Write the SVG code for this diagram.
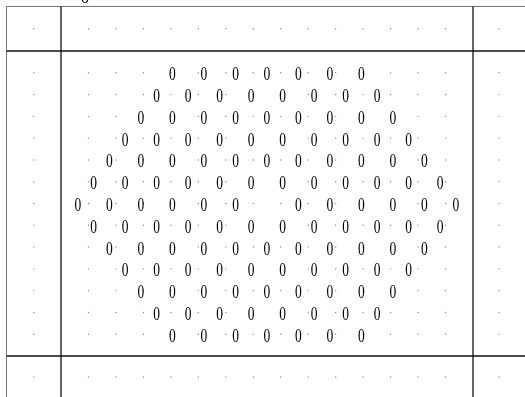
<svg xmlns="http://www.w3.org/2000/svg" xmlns:xlink="http://www.w3.org/1999/xlink" width="525" height="397" viewBox="0 0 525 397">
<style>
.z{font-family:"Liberation Serif","Times New Roman",serif;font-size:18px;fill:#000;text-anchor:middle}
.d{fill:#888}
.frame{fill:none;stroke:#777;stroke-width:1}
.ln{stroke:#111;stroke-width:1.3;fill:none}
</style>
<defs>
<filter id="gray" x="0" y="-20" width="525" height="430" filterUnits="userSpaceOnUse"><feColorMatrix type="saturate" values="0"/></filter>
<g id="dotrow">
<circle class="d" cx="33.75" cy="0" r="0.7"/>
<circle class="d" cx="88.47" cy="0" r="0.7"/>
<circle class="d" cx="115.93" cy="0" r="0.7"/>
<circle class="d" cx="143.4" cy="0" r="0.7"/>
<circle class="d" cx="170.87" cy="0" r="0.7"/>
<circle class="d" cx="198.33" cy="0" r="0.7"/>
<circle class="d" cx="225.8" cy="0" r="0.7"/>
<circle class="d" cx="253.27" cy="0" r="0.7"/>
<circle class="d" cx="280.73" cy="0" r="0.7"/>
<circle class="d" cx="308.2" cy="0" r="0.7"/>
<circle class="d" cx="335.67" cy="0" r="0.7"/>
<circle class="d" cx="363.13" cy="0" r="0.7"/>
<circle class="d" cx="390.6" cy="0" r="0.7"/>
<circle class="d" cx="418.07" cy="0" r="0.7"/>
<circle class="d" cx="445.53" cy="0" r="0.7"/>
<circle class="d" cx="499" cy="0" r="0.7"/>
</g>
</defs>
<rect width="525" height="397" fill="#fff"/>
<g id="dots">
<use xlink:href="#dotrow" href="#dotrow" y="28.75"/>
<use xlink:href="#dotrow" href="#dotrow" y="72.79"/>
<use xlink:href="#dotrow" href="#dotrow" y="94.57"/>
<use xlink:href="#dotrow" href="#dotrow" y="116.36"/>
<use xlink:href="#dotrow" href="#dotrow" y="138.14"/>
<use xlink:href="#dotrow" href="#dotrow" y="159.93"/>
<use xlink:href="#dotrow" href="#dotrow" y="181.71"/>
<use xlink:href="#dotrow" href="#dotrow" y="203.5"/>
<use xlink:href="#dotrow" href="#dotrow" y="225.29"/>
<use xlink:href="#dotrow" href="#dotrow" y="247.07"/>
<use xlink:href="#dotrow" href="#dotrow" y="268.86"/>
<use xlink:href="#dotrow" href="#dotrow" y="290.64"/>
<use xlink:href="#dotrow" href="#dotrow" y="312.43"/>
<use xlink:href="#dotrow" href="#dotrow" y="334.21"/>
<use xlink:href="#dotrow" href="#dotrow" y="377"/>
</g>
<g id="lines">
<line class="frame" x1="6.5" y1="6.5" x2="525" y2="6.5"/>
<line class="frame" x1="6.5" y1="6.5" x2="6.5" y2="397"/>
<line class="ln" x1="6.5" y1="51" x2="525" y2="51"/>
<line class="ln" x1="6.5" y1="356" x2="525" y2="356"/>
<line class="ln" x1="61" y1="6.5" x2="61" y2="397"/>
<line class="ln" x1="473" y1="6.5" x2="473" y2="397"/>
</g>
<g filter="url(#gray)">
<g id="top"><text class="z" x="85" y="3">0</text></g>
<g id="zeros" transform="scale(0.75,1)">
<g id="r1"><text class="z" x="230" y="80.3">0</text><text class="z" x="272" y="80.3">0</text><text class="z" x="314" y="80.3">0</text><text class="z" x="356" y="80.3">0</text><text class="z" x="398" y="80.3">0</text><text class="z" x="440" y="80.3">0</text><text class="z" x="482" y="80.3">0</text></g>
<g id="r2"><text class="z" x="209" y="102.1">0</text><text class="z" x="251" y="102.1">0</text><text class="z" x="293" y="102.1">0</text><text class="z" x="335" y="102.1">0</text><text class="z" x="377" y="102.1">0</text><text class="z" x="419" y="102.1">0</text><text class="z" x="461" y="102.1">0</text><text class="z" x="503" y="102.1">0</text></g>
<g id="r3"><text class="z" x="188" y="123.9">0</text><text class="z" x="230" y="123.9">0</text><text class="z" x="272" y="123.9">0</text><text class="z" x="314" y="123.9">0</text><text class="z" x="356" y="123.9">0</text><text class="z" x="398" y="123.9">0</text><text class="z" x="440" y="123.9">0</text><text class="z" x="482" y="123.9">0</text><text class="z" x="524" y="123.9">0</text></g>
<g id="r4"><text class="z" x="167" y="145.6">0</text><text class="z" x="209" y="145.6">0</text><text class="z" x="251" y="145.6">0</text><text class="z" x="293" y="145.6">0</text><text class="z" x="335" y="145.6">0</text><text class="z" x="377" y="145.6">0</text><text class="z" x="419" y="145.6">0</text><text class="z" x="461" y="145.6">0</text><text class="z" x="503" y="145.6">0</text><text class="z" x="545" y="145.6">0</text></g>
<g id="r5"><text class="z" x="146" y="167.4">0</text><text class="z" x="188" y="167.4">0</text><text class="z" x="230" y="167.4">0</text><text class="z" x="272" y="167.4">0</text><text class="z" x="314" y="167.4">0</text><text class="z" x="356" y="167.4">0</text><text class="z" x="398" y="167.4">0</text><text class="z" x="440" y="167.4">0</text><text class="z" x="482" y="167.4">0</text><text class="z" x="524" y="167.4">0</text><text class="z" x="566" y="167.4">0</text></g>
<g id="r6"><text class="z" x="125" y="189.2">0</text><text class="z" x="167" y="189.2">0</text><text class="z" x="209" y="189.2">0</text><text class="z" x="251" y="189.2">0</text><text class="z" x="293" y="189.2">0</text><text class="z" x="335" y="189.2">0</text><text class="z" x="377" y="189.2">0</text><text class="z" x="419" y="189.2">0</text><text class="z" x="461" y="189.2">0</text><text class="z" x="503" y="189.2">0</text><text class="z" x="545" y="189.2">0</text><text class="z" x="587" y="189.2">0</text></g>
<g id="r7"><text class="z" x="104" y="211">0</text><text class="z" x="146" y="211">0</text><text class="z" x="188" y="211">0</text><text class="z" x="230" y="211">0</text><text class="z" x="272" y="211">0</text><text class="z" x="314" y="211">0</text><text class="z" x="398" y="211">0</text><text class="z" x="440" y="211">0</text><text class="z" x="482" y="211">0</text><text class="z" x="524" y="211">0</text><text class="z" x="566" y="211">0</text><text class="z" x="608" y="211">0</text></g>
<g id="r8"><text class="z" x="125" y="232.8">0</text><text class="z" x="167" y="232.8">0</text><text class="z" x="209" y="232.8">0</text><text class="z" x="251" y="232.8">0</text><text class="z" x="293" y="232.8">0</text><text class="z" x="335" y="232.8">0</text><text class="z" x="377" y="232.8">0</text><text class="z" x="419" y="232.8">0</text><text class="z" x="461" y="232.8">0</text><text class="z" x="503" y="232.8">0</text><text class="z" x="545" y="232.8">0</text><text class="z" x="587" y="232.8">0</text></g>
<g id="r9"><text class="z" x="146" y="254.6">0</text><text class="z" x="188" y="254.6">0</text><text class="z" x="230" y="254.6">0</text><text class="z" x="272" y="254.6">0</text><text class="z" x="314" y="254.6">0</text><text class="z" x="356" y="254.6">0</text><text class="z" x="398" y="254.6">0</text><text class="z" x="440" y="254.6">0</text><text class="z" x="482" y="254.6">0</text><text class="z" x="524" y="254.6">0</text><text class="z" x="566" y="254.6">0</text></g>
<g id="r10"><text class="z" x="167" y="276.4">0</text><text class="z" x="209" y="276.4">0</text><text class="z" x="251" y="276.4">0</text><text class="z" x="293" y="276.4">0</text><text class="z" x="335" y="276.4">0</text><text class="z" x="377" y="276.4">0</text><text class="z" x="419" y="276.4">0</text><text class="z" x="461" y="276.4">0</text><text class="z" x="503" y="276.4">0</text><text class="z" x="545" y="276.4">0</text></g>
<g id="r11"><text class="z" x="188" y="298.1">0</text><text class="z" x="230" y="298.1">0</text><text class="z" x="272" y="298.1">0</text><text class="z" x="314" y="298.1">0</text><text class="z" x="356" y="298.1">0</text><text class="z" x="398" y="298.1">0</text><text class="z" x="440" y="298.1">0</text><text class="z" x="482" y="298.1">0</text><text class="z" x="524" y="298.1">0</text></g>
<g id="r12"><text class="z" x="209" y="319.9">0</text><text class="z" x="251" y="319.9">0</text><text class="z" x="293" y="319.9">0</text><text class="z" x="335" y="319.9">0</text><text class="z" x="377" y="319.9">0</text><text class="z" x="419" y="319.9">0</text><text class="z" x="461" y="319.9">0</text><text class="z" x="503" y="319.9">0</text></g>
<g id="r13"><text class="z" x="230" y="341.7">0</text><text class="z" x="272" y="341.7">0</text><text class="z" x="314" y="341.7">0</text><text class="z" x="356" y="341.7">0</text><text class="z" x="398" y="341.7">0</text><text class="z" x="440" y="341.7">0</text><text class="z" x="482" y="341.7">0</text></g>
</g>
</g>
</svg>
